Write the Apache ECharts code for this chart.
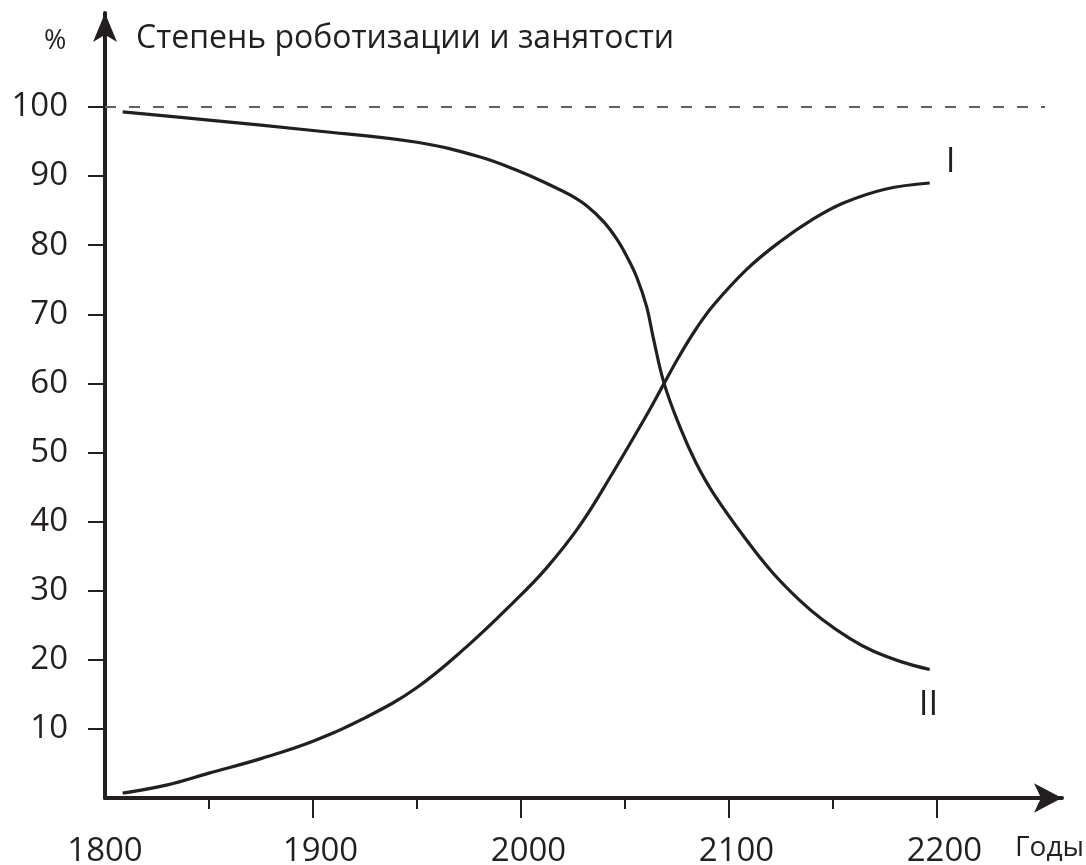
<!DOCTYPE html>
<html>
<head>
<meta charset="utf-8">
<script src="https://cdn.jsdelivr.net/npm/echarts@6/dist/echarts.min.js"></script>
<style>
    html, body{
        margin:0;
        padding:0;
        background:#fff;
    }
    #chart{
        width:1086px;
        height:865px;
    }
</style>
</head>
<body>
<div id="chart"></div>
<script type="text/javascript">
    // подписи и деления осей
    var yearLabels = [1800, 1900, 2000, 2100, 2200];
    var majorYears = [1900, 2000, 2100, 2200];
    var minorYears = [1850, 1950, 2050, 2150];
    var percentTicks = [10, 20, 30, 40, 50, 60, 70, 80, 90, 100];
    var fullLevel = 100;

    // кривая I - степень роботизации, % (год, значение)
    var robotization = [
        [1808.5, 0.7], [1830, 1.9], [1850, 3.6], [1875, 5.7], [1900, 8.2],
        [1925, 11.6], [1950, 16.0], [1975, 22.2], [1996, 28.2], [2012, 33.2],
        [2028, 39.3], [2044, 47.0], [2060, 55.2], [2068.8, 60.0], [2076, 63.9],
        [2084, 67.8], [2092.5, 71.3], [2108.5, 76.5], [2124.5, 80.5], [2140, 83.7],
        [2155, 86.1], [2175, 88.1], [2196.5, 89.0]
    ];
    // кривая II - занятость, %
    var employment = [
        [1808.5, 99.3], [1850, 98.1], [1900, 96.6], [1950, 94.9], [1980, 92.8],
        [2000, 90.6], [2014, 88.7], [2024, 87.2], [2032, 85.6], [2040, 83.3],
        [2046, 80.9], [2051, 78.3], [2055.6, 75.4], [2060.4, 71.1], [2063.6, 66.6],
        [2068.8, 60.0], [2076.4, 53.7], [2084, 48.6], [2092.5, 44.1], [2108.5, 37.3],
        [2121, 32.6], [2134, 28.6], [2145, 25.8], [2158, 23.1], [2169, 21.3],
        [2183, 19.7], [2196.5, 18.6]
    ];

    var ink = '#231f20';
    var font = '"Open Sans", "Noto Sans", sans-serif';

    var chart = echarts.init(document.getElementById('chart'));
    var option = {
        animation: false,
        backgroundColor: '#fff',
        grid: { left: 105, right: 24, top: 13, bottom: 67, outerBoundsMode: 'none' },
        xAxis: [{
            type: 'value',
            min: 1800,
            max: 2260.1,
            position: 'bottom',
            splitLine: { show: false },
            axisLine: {
                lineStyle: { color: ink, width: 4 },
                symbol: ['none', 'arrow'],
                symbolSize: [22, 28]
            },
            axisTick: { customValues: minorYears, length: 11, lineStyle: { color: ink, width: 2 } },
            axisLabel: { show: false }
        }, {
            type: 'value',
            min: 1800,
            max: 2260.1,
            position: 'bottom',
            splitLine: { show: false },
            axisLine: { show: false },
            axisTick: { customValues: majorYears, length: 20, lineStyle: { color: ink, width: 2 } },
            axisLabel: {
                customValues: yearLabels,
                margin: 37,
                color: ink,
                fontFamily: font,
                fontSize: 33,
                formatter: function (v) {
                    return v === 1800 ? '{a|' + v + '}' : '{b|' + v + '}';
                },
                rich: {
                    a: { fontFamily: font, fontSize: 33, color: ink },
                    b: { fontFamily: font, fontSize: 33, color: ink, padding: [0, 0, 0, 15] }
                }
            }
        }],
        yAxis: {
            type: 'value',
            min: 0,
            max: 113.6,
            splitLine: { show: false },
            axisLine: {
                lineStyle: { color: ink, width: 4 },
                symbol: ['none', 'arrow'],
                symbolSize: [18, 29]
            },
            axisTick: { customValues: percentTicks, length: 17, lineStyle: { color: ink, width: 2 } },
            axisLabel: {
                customValues: percentTicks,
                margin: 37,
                color: ink,
                fontFamily: font,
                fontSize: 33
            }
        },
        series: [{
            name: 'I',
            type: 'line',
            data: robotization,
            showSymbol: false,
            smooth: 0.4,
            lineStyle: { color: ink, width: 3.2 },
            endLabel: {
                show: true,
                formatter: 'I',
                offset: [8, -21],
                color: ink,
                fontFamily: font,
                fontSize: 35
            },
            markLine: {
                silent: true,
                symbol: 'none',
                label: { show: false },
                lineStyle: { color: '#5f6062', width: 1.8, type: [11, 13] },
                data: [[{ coord: [1800, fullLevel] }, { coord: [2252, fullLevel] }]]
            }
        }, {
            name: 'II',
            type: 'line',
            data: employment,
            showSymbol: false,
            smooth: 0.4,
            lineStyle: { color: ink, width: 3.2 },
            endLabel: {
                show: true,
                formatter: 'II',
                offset: [-19, 36],
                color: ink,
                fontFamily: font,
                fontSize: 35
            }
        }],
        graphic: [{
            type: 'text',
            left: 44,
            top: 28,
            style: { text: '%', fill: ink, font: '27px ' + font }
        }, {
            type: 'text',
            left: 136,
            top: 23,
            style: { text: 'Степень роботизации и занятости', fill: ink, font: '32px ' + font }
        }, {
            type: 'text',
            left: 1015,
            top: 834,
            style: { text: 'Годы', fill: ink, font: '28px ' + font }
        }]
    };
    chart.setOption(option);
</script>
</body>
</html>
